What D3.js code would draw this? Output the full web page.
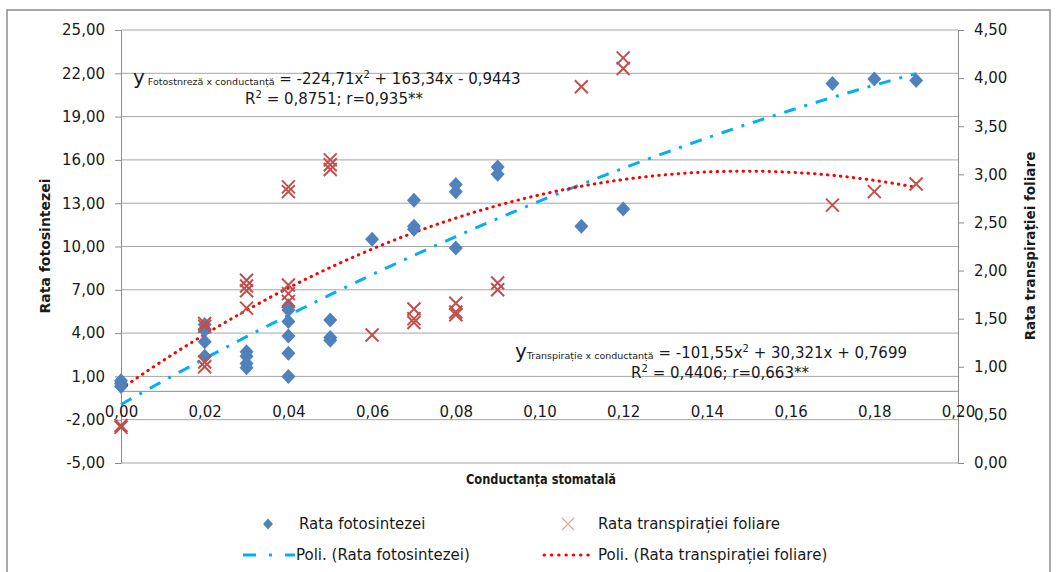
<!DOCTYPE html>
<html>
<head>
<meta charset="utf-8">
<script src="https://cdn.jsdelivr.net/npm/d3@7"></script>
<style>
  body { margin: 0; background: #fff; }
  text { font-family: "DejaVu Sans", sans-serif; fill: #1a1a1a; }
</style>
</head>
<body>
<svg id="chart"></svg>
<script>
// conductanta stomatala (x) and the two measured series
var fotoX = [0, 0, 0, 0.02, 0.02, 0.02, 0.02, 0.03, 0.03, 0.03, 0.03, 0.04, 0.04, 0.04, 0.04, 0.04, 0.04,
    0.05, 0.05, 0.05, 0.06, 0.07, 0.07, 0.07, 0.08, 0.08, 0.08, 0.09, 0.09, 0.11, 0.12, 0.17, 0.18, 0.19];
var fotoY = [0.7, 0.5, 0.3, 4.6, 4.2, 3.4, 2.4, 2.7, 2.4, 1.9, 1.6, 5.9, 5.6, 4.8, 3.8, 2.6, 1.0,
    4.9, 3.7, 3.5, 10.5, 13.2, 11.4, 11.2, 14.3, 13.8, 9.9, 15.5, 15.0, 11.4, 12.6, 21.3, 21.6, 21.5];
var transpX = [0, 0, 0.02, 0.02, 0.02, 0.02, 0.03, 0.03, 0.03, 0.03, 0.04, 0.04, 0.04, 0.04, 0.04,
    0.05, 0.05, 0.05, 0.06, 0.07, 0.07, 0.07, 0.08, 0.08, 0.08, 0.09, 0.09, 0.11, 0.12, 0.12, 0.17, 0.18, 0.19];
var transpY = [0.37, 0.39, 1.45, 1.42, 1.05, 1.0, 1.9, 1.84, 1.79, 1.61, 2.87, 2.82, 1.85, 1.76, 1.68,
    3.15, 3.1, 3.05, 1.33, 1.6, 1.5, 1.46, 1.66, 1.57, 1.54, 1.87, 1.8, 3.91, 4.21, 4.1, 2.68, 2.82, 2.9];
// trendline coefficients (a x^2 + b x + c) as printed on the chart
var fotoCoef = [-224.71, 163.34, -0.9443];
var transpCoef = [-101.55, 30.321, 0.7699];
var leftTicks = [-5, -2, 1, 4, 7, 10, 13, 16, 19, 22, 25];
var rightTicks = [0, 0.5, 1, 1.5, 2, 2.5, 3, 3.5, 4, 4.5];
var xTicks = [0, 0.02, 0.04, 0.06, 0.08, 0.1, 0.12, 0.14, 0.16, 0.18, 0.2];

var svgWidth = 1057, svgHeight = 572;
var svg = d3.select('#chart').attr('width', svgWidth).attr('height', svgHeight);
var x = d3.scaleLinear().domain([0, 0.2]).range([121, 958]);
var yL = d3.scaleLinear().domain([-5, 25]).range([463, 30]);
var yR = d3.scaleLinear().domain([0, 4.5]).range([463, 30]);
var fmt = function (d) { return d3.format('.2f')(d).replace('.', ',').replace('\u2212', '-'); };

svg.append('rect').attr('x', 7).attr('y', 10).attr('width', 1043).attr('height', 575)
    .attr('fill', 'none').attr('stroke', '#8c8c8c').attr('stroke-width', 1.5);

// gridlines
svg.append('g').selectAll('line').data(leftTicks).enter().append('line')
    .attr('x1', x(0)).attr('x2', x(0.2))
    .attr('y1', function (d) { return yL(d); }).attr('y2', function (d) { return yL(d); })
    .attr('stroke', '#a6a6a6').attr('stroke-width', 1);

function styleAxis(g) {
    g.selectAll('.domain').attr('stroke', '#8c8c8c');
    g.selectAll('.tick line').attr('stroke', '#8c8c8c');
    g.selectAll('.tick text').style('font-size', '15px').attr('fill', '#1a1a1a');
}
svg.append('g').attr('transform', 'translate(' + x(0) + ',0)')
    .call(d3.axisLeft(yL).tickValues(leftTicks).tickSize(6).tickSizeOuter(0).tickPadding(10).tickFormat(fmt))
    .call(styleAxis);
svg.append('g').attr('transform', 'translate(' + x(0.2) + ',0)')
    .call(d3.axisRight(yR).tickValues(rightTicks).tickSize(6).tickSizeOuter(0).tickPadding(10).tickFormat(fmt))
    .call(styleAxis);
svg.append('g').attr('transform', 'translate(0,' + yL(0) + ')')
    .call(d3.axisBottom(x).tickValues(xTicks).tickSize(0).tickPadding(16).tickFormat(fmt))
    .call(styleAxis);

// trend curves
function quad(c) { return function (v) { return c[0] * v * v + c[1] * v + c[2]; }; }
var xs = d3.range(0, 0.1901, 0.002);
var fFoto = quad(fotoCoef), fTransp = quad(transpCoef);
svg.append('path').datum(xs)
    .attr('d', d3.line().x(function (d) { return x(d); }).y(function (d) { return yL(fFoto(d)); }))
    .attr('fill', 'none').attr('stroke', '#00b0f0').attr('stroke-width', 3)
    .attr('stroke-dasharray', '12,9,3,9');
svg.append('path').datum(xs)
    .attr('d', d3.line().x(function (d) { return x(d); }).y(function (d) { return yR(fTransp(d)); }))
    .attr('fill', 'none').attr('stroke', '#ff0000').attr('stroke-width', 3)
    .attr('stroke-linecap', 'round').attr('stroke-dasharray', '0.5,6');

// markers
var diamond = 'M0,-7.5L7,0L0,7.5L-7,0Z';
var cross = 'M-6.5,-6.5L6.5,6.5M-6.5,6.5L6.5,-6.5';
svg.append('g').selectAll('path').data(fotoY).enter().append('path')
    .attr('d', diamond).attr('fill', '#4f81bd')
    .attr('transform', function (d, i) { return 'translate(' + x(fotoX[i]) + ',' + yL(d) + ')'; });
svg.append('g').selectAll('path').data(transpY).enter().append('path')
    .attr('d', cross).attr('fill', 'none').attr('stroke', '#c0504d').attr('stroke-width', 2)
    .attr('transform', function (d, i) { return 'translate(' + x(transpX[i]) + ',' + yR(d) + ')'; });

// equations
var eq1 = svg.append('text').attr('x', 133).attr('y', 84).style('font-size', '15px');
eq1.append('tspan').text('y').style('font-size', '20px');
eq1.append('tspan').text(' Fotostnreză x conductanță').style('font-size', '9.5px').attr('dy', 1);
eq1.append('tspan').text(' = -224,71x').attr('dy', -1);
eq1.append('tspan').text('2').style('font-size', '10px').attr('dy', -6);
eq1.append('tspan').text(' + 163,34x - 0,9443').attr('dy', 6);
var r1 = svg.append('text').attr('x', 334).attr('y', 104).attr('text-anchor', 'middle').style('font-size', '15px');
r1.append('tspan').text('R');
r1.append('tspan').text('2').style('font-size', '10px').attr('dy', -6);
r1.append('tspan').text(' = 0,8751; r=0,935**').attr('dy', 6);

var eq2 = svg.append('text').attr('x', 907).attr('y', 358).attr('text-anchor', 'end').style('font-size', '15px');
eq2.append('tspan').text('y').style('font-size', '20px');
eq2.append('tspan').text('Transpirație x conductanță').style('font-size', '9.5px').attr('dy', 1);
eq2.append('tspan').text(' = -101,55x').attr('dy', -1);
eq2.append('tspan').text('2').style('font-size', '10px').attr('dy', -6);
eq2.append('tspan').text(' + 30,321x + 0,7699').attr('dy', 6);
var r2 = svg.append('text').attr('x', 720).attr('y', 378).attr('text-anchor', 'middle').style('font-size', '15px');
r2.append('tspan').text('R');
r2.append('tspan').text('2').style('font-size', '10px').attr('dy', -6);
r2.append('tspan').text(' = 0,4406; r=0,663**').attr('dy', 6);

// axis titles
svg.append('text').attr('transform', 'translate(50,246) rotate(-90)').attr('text-anchor', 'middle')
    .style('font-size', '14px').style('font-weight', 'bold').text('Rata fotosintezei');
svg.append('text').attr('transform', 'translate(1035,246) rotate(-90)').attr('text-anchor', 'middle')
    .style('font-size', '13.5px').style('font-weight', 'bold').text('Rata transpirației foliare');
svg.append('text').attr('x', 541).attr('y', 484).attr('text-anchor', 'middle')
    .attr('textLength', 150).attr('lengthAdjust', 'spacingAndGlyphs')
    .style('font-size', '14px').style('font-weight', 'bold')
    .text('Conductanța stomatală');

// legend
var lg = svg.append('g').style('font-size', '15px');
lg.append('path').attr('d', 'M0,-5.5L5,0L0,5.5L-5,0Z').attr('fill', '#4f81bd').attr('transform', 'translate(268,524)');
lg.append('text').attr('x', 299).attr('y', 529).text('Rata fotosintezei');
lg.append('path').attr('d', 'M-6,-6L6,6M-6,6L6,-6').attr('stroke', '#e8a2a0').attr('stroke-width', 1.2)
    .attr('transform', 'translate(568,524)');
lg.append('text').attr('x', 598).attr('y', 529).text('Rata transpirației foliare');
lg.append('line').attr('x1', 243).attr('x2', 295).attr('y1', 555).attr('y2', 555)
    .attr('stroke', '#00b0f0').attr('stroke-width', 3).attr('stroke-dasharray', '13,13,3,13');
lg.append('text').attr('x', 296).attr('y', 560).text('Poli. (Rata fotosintezei)');
lg.append('line').attr('x1', 544).attr('x2', 590).attr('y1', 555).attr('y2', 555)
    .attr('stroke', '#ff0000').attr('stroke-width', 3).attr('stroke-linecap', 'round').attr('stroke-dasharray', '0.5,6.8');
lg.append('text').attr('x', 598).attr('y', 560).text('Poli. (Rata transpirației foliare)');
</script>
</body>
</html>
